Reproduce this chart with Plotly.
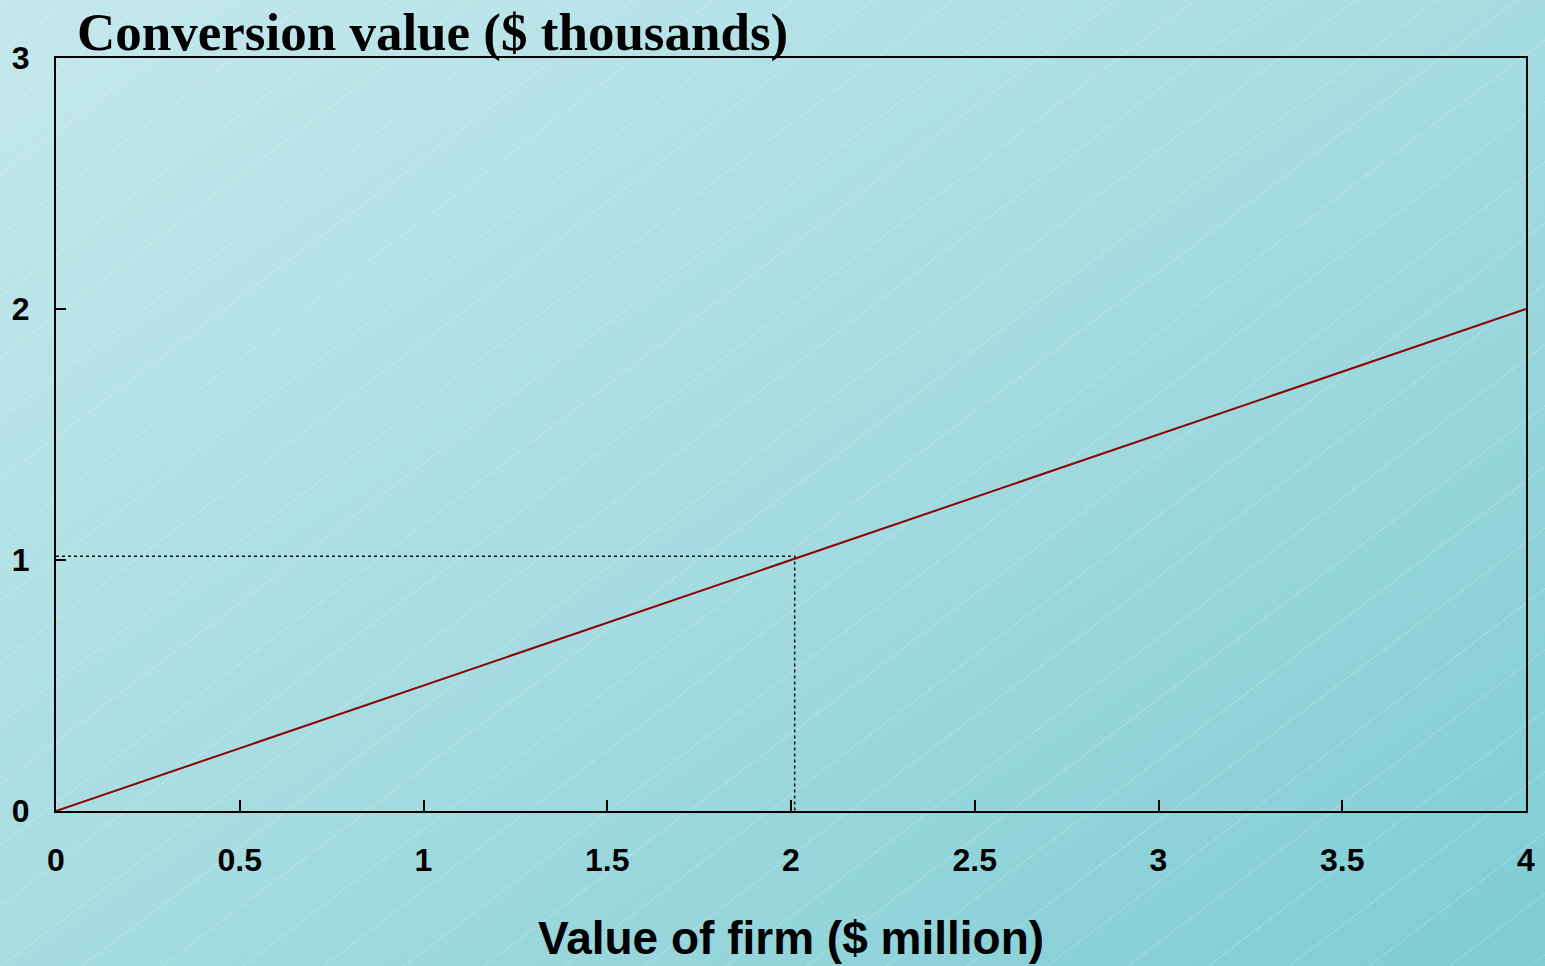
import base64
import plotly.graph_objects as go

# Firm value ($ million) and the conversion value of the bond ($ thousands)
firm_value = [0, 1, 2, 3, 4]
conversion_value = [0, 0.5, 1.0, 1.5, 2.0]

# Reference point marked with dotted guides
guide_x = 2.01
guide_y = 1.015

x_ticks = [0, 0.5, 1, 1.5, 2, 2.5, 3, 3.5, 4]
x_tick_text = ["0", "0.5", "1", "1.5", "2", "2.5", "3", "3.5", "4"]
y_ticks = [0, 1, 2, 3]
y_tick_text = ["0", "1", "2", "3"]

W, H = 1545, 966
L, R, T, B = 56, 10, 58, 155
PW, PH = W - L - R, H - T - B
PAD = 40  # background overhang beyond the page edges

# Slide-style background: diagonal teal gradient with faint white hatching
BW, BH = W + 2 * PAD, H + 2 * PAD
bg_svg = f"""<svg xmlns="http://www.w3.org/2000/svg" width="{BW}" height="{BH}" viewBox="0 0 {BW} {BH}" preserveAspectRatio="none">
<defs>
<linearGradient id="g" x1="0" y1="0" x2="1" y2="1">
<stop offset="0" stop-color="#c6e9ed"/>
<stop offset="0.5" stop-color="#a6dce1"/>
<stop offset="1" stop-color="#7ccbd3"/>
</linearGradient>
<pattern id="h" width="200" height="48.7" patternUnits="userSpaceOnUse" patternTransform="rotate(-37)">
<line x1="0" y1="0.5" x2="200" y2="0.5" stroke="#ffffff" stroke-opacity="0.32" stroke-width="1" stroke-dasharray="2 1"/>
</pattern>
</defs>
<rect width="{BW}" height="{BH}" fill="url(#g)"/>
<rect width="{BW}" height="{BH}" fill="url(#h)"/>
</svg>"""
bg_uri = "data:image/svg+xml;base64," + base64.b64encode(bg_svg.encode()).decode()

fig = go.Figure()

# Dotted guides to the reference point
fig.add_trace(go.Scatter(
    x=[0, guide_x, guide_x], y=[guide_y, guide_y, 0],
    mode="lines", line=dict(color="#111111", width=1.5, dash="dot"),
    hoverinfo="skip", showlegend=False, cliponaxis=False,
))

# Conversion value line
fig.add_trace(go.Scatter(
    x=firm_value, y=conversion_value,
    mode="lines", line=dict(color="#8b0000", width=2),
    showlegend=False, cliponaxis=False,
))

tick_font = dict(family="Liberation Sans, Arial, sans-serif", size=32, color="black", weight="bold")

fig.update_layout(
    width=W, height=H,
    margin=dict(l=L, r=R, t=T, b=B),
    paper_bgcolor="#a3dbe0",
    plot_bgcolor="rgba(0,0,0,0)",
    images=[dict(
        source=bg_uri, xref="paper", yref="paper",
        x=-(L + PAD) / PW, y=1 + (T + PAD) / PH, sizex=BW / PW, sizey=BH / PH,
        xanchor="left", yanchor="top", sizing="stretch", layer="below",
    )],
    xaxis=dict(
        range=[0, 4], tickvals=x_ticks, ticktext=x_tick_text,
        ticks="inside", ticklen=11, tickwidth=2, tickcolor="black",
        showline=True, linecolor="black", linewidth=2, mirror=True,
        showgrid=False, zeroline=False, tickfont=tick_font,
        ticklabelstandoff=20,
    ),
    yaxis=dict(
        range=[0, 3], tickvals=y_ticks, ticktext=y_tick_text,
        ticks="inside", ticklen=10, tickwidth=2, tickcolor="black",
        showline=True, linecolor="black", linewidth=2, mirror=True,
        showgrid=False, zeroline=False, tickfont=tick_font,
        ticklabelstandoff=18,
    ),
    annotations=[
        dict(
            text="Conversion value ($ thousands)",
            xref="paper", yref="paper",
            x=(75 - L) / PW, y=(H - B - 32) / PH,
            xanchor="left", yanchor="middle", showarrow=False,
            font=dict(family="Liberation Serif, Times New Roman, serif", size=53,
                      color="black", weight="bold"),
        ),
        dict(
            text="Value of firm ($ million)",
            xref="paper", yref="paper",
            x=0.5, y=(H - B - 938) / PH,
            xanchor="center", yanchor="middle", showarrow=False,
            font=dict(family="Liberation Sans, Arial, sans-serif", size=46,
                      color="black", weight="bold"),
        ),
    ],
)

fig.write_html("out.html")
